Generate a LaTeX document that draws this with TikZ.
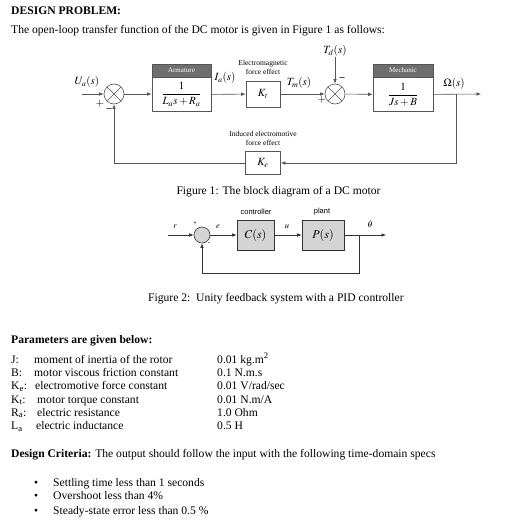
\documentclass[tikz,border=0pt]{standalone}
\usepackage{amsmath}
\usepackage{mathptmx}
\usepackage[no-math]{fontspec}
\setmainfont{Liberation Serif}
\setsansfont{Liberation Sans}
\usetikzlibrary{arrows.meta,positioning,calc}

\definecolor{lineg}{HTML}{555555}
\definecolor{headg}{HTML}{6E6E6E}
\definecolor{boxg}{HTML}{D4D4D4}

\tikzset{
  txt/.style={anchor=base west, inner sep=0pt, font=\fontsize{11.6}{13}\selectfont},
  btxt/.style={txt, font=\fontsize{11.6}{13}\selectfont\bfseries},
  lbl/.style={inner sep=0pt, font=\fontsize{11}{13}\selectfont},
  notelbl/.style={inner sep=0pt, align=center, font=\fontsize{7.5}{9}\selectfont},
  sig/.style={draw=lineg, line width=0.6pt, -{Latex[length=4.5pt,width=3.5pt]}},
  sigb/.style={draw=black!80, line width=0.6pt, -{Latex[length=4.5pt,width=3.5pt]}},
  blk/.style={draw=lineg, line width=0.6pt, fill=white, inner sep=0pt, font=\fontsize{11}{13}\selectfont},
  hdr/.style={draw=lineg, line width=0.6pt, fill=headg, text=white, inner sep=0pt, minimum height=13pt, font=\fontsize{7}{8}\selectfont},
  sumx/.style={circle, draw=lineg, line width=0.6pt, fill=white, minimum size=20pt, inner sep=0pt,
    path picture={\draw[lineg, line width=0.6pt] (path picture bounding box.south west) -- (path picture bounding box.north east)
      (path picture bounding box.north west) -- (path picture bounding box.south east);}},
  sumo/.style={circle, draw=black!80, fill=boxg, line width=0.6pt, minimum size=16pt, inner sep=0pt},
  pblk/.style={draw=black!80, fill=boxg, line width=0.6pt, minimum height=30pt, inner sep=0pt, font=\fontsize{12}{14}\selectfont},
  sfl/.style={inner sep=0pt, font=\sffamily\fontsize{7.5}{9}\selectfont},
  sml/.style={inner sep=0pt, font=\fontsize{8.5}{10}\selectfont},
}

\begin{document}
\begin{tikzpicture}[x=1pt, y=-1pt]

  \useasboundingbox (0,0) rectangle (525,527);
  \fill[white] (0,0) rectangle (525,527);

  % Heading text
  \node[btxt] (title) at (11,14.5) {DESIGN PROBLEM:};
  \node[txt] (intro) at (11,34) {The open-loop transfer function of the DC motor is given in Figure 1 as follows:};

  % Figure 1 nodes
  \node[sumx] (sum1) at (114,94) {};
  \node[hdr, minimum width=59pt] (armh) at (181.5,70.5) {Armature};
  \node[blk, minimum width=59pt, minimum height=34pt, below=0pt of armh] (arm) {$\dfrac{1}{L_a s+R_a}$};
  \node[blk, minimum width=34pt, minimum height=26pt] (kt) at (263,94) {$K_t$};
  \node[sumx] (sum2) at (335,94) {};
  \node[hdr, minimum width=60pt] (mechh) at (403,70.5) {Mechanic};
  \node[blk, minimum width=60pt, minimum height=34pt, below=0pt of mechh] (mech) {$\dfrac{1}{Js+B}$};
  \node[blk, minimum width=35pt, minimum height=23pt] (ke) at (263,163) {$K_e$};
  \coordinate (uin) at (82,94);
  \coordinate (wbr) at (456,94);
  \coordinate (wout) at (481,94);

  \node[lbl] (ua) at (87,82) {$U_a(s)$};
  \node[lbl] (ia) at (225,78) {$I_a(s)$};
  \node[lbl] (tm) at (299,83) {$T_m(s)$};
  \node[lbl] (td) at (335,51) {$T_d(s)$};
  \node[lbl] (om) at (454,84) {$\Omega(s)$};
  \node[notelbl] (emlbl) at (263,67) {Electromagnetic\\force effect};
  \node[notelbl] (ielbl) at (263,138) {Induced electromotive\\force effect};
  \node[lbl] (p1) at (100,104) {$+$};
  \node[lbl, font=\bfseries] (m1) at (109,110) {--};
  \node[lbl] (p2) at (322,100) {$+$};
  \node[lbl, font=\bfseries] (m2) at (342,79) {--};

  % Figure 1 arrows
  \draw[sig] (uin) -- (sum1);
  \draw[sig] (sum1) -- (sum1 -| arm.west);
  \draw[sig] (arm) -- (kt);
  \draw[sig] (kt) -- (sum2);
  \draw[sig] (td) -- (sum2);
  \draw[sig] (sum2) -- (mech);
  \draw[sig] (mech) -- (wout);
  \draw[sig] (wbr) |- (ke);
  \draw[sig] (ke) -| (sum1);

  \node[txt, anchor=base] (cap1) at (278.5,194) {Figure 1: The block diagram of a DC motor};

  % Figure 2 nodes
  \node[sumo] (sumb) at (202,235) {};
  \node[pblk, minimum width=37pt] (cs) at (255.5,235) {$C(s)$};
  \node[pblk, minimum width=42pt] (ps) at (323,235) {$P(s)$};
  \node[sfl] (ctrl) at (256,212) {controller};
  \node[sfl] (plant) at (322,212) {plant};
  \coordinate (rin) at (168,235);
  \coordinate (thbr) at (359,235);
  \coordinate (thout) at (386,235);
  \coordinate (fb2) at (359,273);
  \node[sml] (rl) at (175,227) {$r$};
  \node[sml] (el) at (218,227) {$e$};
  \node[sml] (ul) at (287,227) {$u$};
  \node[sml] (thl) at (370,224) {$\dot{\theta}$};
  \node[inner sep=0pt, font=\fontsize{7}{8}\selectfont] (pb) at (195,224) {+};
  \node[inner sep=0pt, font=\fontsize{7}{8}\selectfont] (mb) at (209,244) {-};

  % Figure 2 arrows
  \draw[sigb] (rin) -- (sumb);
  \draw[sigb] (sumb) -- (cs);
  \draw[sigb] (cs) -- (ps);
  \draw[sigb] (ps) -- (thout);
  \draw[sigb] (thbr) -- (fb2) -| (sumb);

  \node[txt] (cap2) at (148,301) {Figure 2:\ \ Unity feedback system with a PID controller};

  % Parameters
  \node[btxt] (parhd) at (11,343) {Parameters are given below:};
  \node[txt] (j1) at (11,363) {J:};
  \node[txt] (j2) at (34,363) {moment of inertia of the rotor};
  \node[txt] (j3) at (217,363) {0.01 kg.m\textsuperscript{2}};
  \node[txt] (b1) at (11,376) {B:};
  \node[txt] (b2) at (34,376) {motor viscous friction constant};
  \node[txt] (b3) at (217,376) {0.1 N.m.s};
  \node[txt] (ke1) at (11,389.5) {K\textsubscript{e}:};
  \node[txt] (ke2) at (35,389.5) {electromotive force constant};
  \node[txt] (ke3) at (217,389.5) {0.01 V/rad/sec};
  \node[txt] (kt1) at (11,403) {K\textsubscript{t}:};
  \node[txt] (kt2) at (37,403) {motor torque constant};
  \node[txt] (kt3) at (217,403) {0.01 N.m/A};
  \node[txt] (ra1) at (11,416) {R\textsubscript{a}:};
  \node[txt] (ra2) at (37,416) {electric resistance};
  \node[txt] (ra3) at (217,416) {1.0 Ohm};
  \node[txt] (la1) at (11,429.5) {L\textsubscript{a}};
  \node[txt] (la2) at (36,429.5) {electric inductance};
  \node[txt] (la3) at (217,429.5) {0.5 H};

  % Design criteria
  \node[txt] (crit) at (11,457) {\textbf{Design Criteria:} The output should follow the input with the following time-domain specs};
  \node[txt] (bu1) at (34,486) {\textbullet};
  \node[txt] (c1) at (53,486) {Settling time less than 1 seconds};
  \node[txt] (bu2) at (34,499.5) {\textbullet};
  \node[txt] (c2) at (53,499.5) {Overshoot less than 4\%};
  \node[txt] (bu3) at (34,514) {\textbullet};
  \node[txt] (c3) at (53,514) {Steady-state error less than 0.5 \%};

\end{tikzpicture}
\end{document}
